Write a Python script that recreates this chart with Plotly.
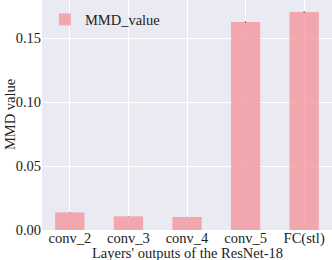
import plotly.graph_objects as go

categories = ["conv_2", "conv_3", "conv_4", "conv_5", "FC(stl)"]
mmd_values = [0.0138, 0.0107, 0.0102, 0.1627, 0.1706]
mmd_errors = [0.0003, 0.0002, 0.0002, 0.0008, 0.0008]
y_ticks = [0.00, 0.05, 0.10, 0.15]

FF = "'Liberation Serif', 'Times New Roman', 'DejaVu Serif', serif"
FS = 14.5
font = dict(family=FF, size=FS, color="#222222")

fig = go.Figure()
fig.add_trace(go.Bar(
    x=categories,
    y=mmd_values,
    name="MMD_value",
    width=0.5,
    marker=dict(color="rgb(245,145,153)", line=dict(width=0)),
    opacity=0.75,
    error_y=dict(type="data", array=mmd_errors, color="#333333", thickness=1, width=0),
    showlegend=True,
))

fig.update_layout(
    width=332, height=260,
    margin=dict(l=42, r=0, t=0, b=30, autoexpand=False),
    paper_bgcolor="white",
    plot_bgcolor="#EAEAF2",
    font=font,
    showlegend=True,
    legend=dict(x=0.01, y=0.985, xanchor="left", yanchor="top",
                bgcolor="rgba(0,0,0,0)", font=font, itemwidth=30),
    xaxis=dict(
        range=[-0.475, 4.475],
        showgrid=True, gridcolor="white", gridwidth=1,
        ticks="", tickfont=font, automargin=False, ticklabelstandoff=-3,
        zeroline=False, showline=False,
    ),
    yaxis=dict(
        range=[0, 0.18],
        tickvals=y_ticks,
        ticktext=[f"{v:.2f}" for v in y_ticks],
        showgrid=True, gridcolor="white", gridwidth=1,
        ticks="", tickfont=font, automargin=False,
        zeroline=False, showline=False,
    ),
    annotations=[
        dict(text="Layers' outputs of the ResNet-18", xref="paper", yref="paper",
             x=0.5, y=-0.1, xanchor="center", yanchor="middle", showarrow=False, font=font),
        dict(text="MMD value", xref="paper", yref="paper", textangle=-90,
             x=-0.11, y=0.5, xanchor="center", yanchor="middle", showarrow=False, font=font),
    ],
)

fig.write_html("out.html", config={"displayModeBar": False},
               post_script="document.body.style.margin='0';document.body.style.overflow='hidden';")
